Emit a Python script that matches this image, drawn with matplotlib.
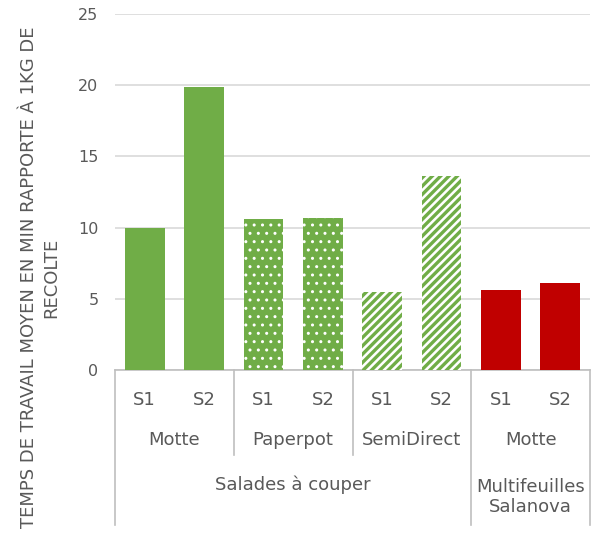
import matplotlib.pyplot as plt
import matplotlib.transforms as mtransforms

plt.rcParams['font.family'] = ['DejaVu Sans']

# data
series = ["S1", "S2", "S1", "S2", "S1", "S2", "S1", "S2"]
values = [10.0, 19.9, 10.6, 10.7, 5.5, 13.6, 5.6, 6.1]
groups = ["Motte", "Paperpot", "SemiDirect", "Motte"]
top_groups = ["Salades à couper", "Multifeuilles\nSalanova"]
yticks = [0, 5, 10, 15, 20, 25]

GREEN = "#70AD47"
RED = "#C00000"
TXT = "#595959"
LINE = "#BFBFBF"

fig = plt.figure(figsize=(5.93, 5.37), dpi=100)
ax = fig.add_axes([0.194, 0.311, 0.801, 0.663])

for i, v in enumerate(values):
    g = i // 2
    if g == 0:
        ax.bar(i, v, width=0.67, color=GREEN, zorder=3)
    elif g == 1:
        plt.rcParams['hatch.linewidth'] = 1.0
        ax.bar(i, v, width=0.67, facecolor=GREEN, edgecolor="white",
               hatch="..", linewidth=0, zorder=3)
    elif g == 2:
        plt.rcParams['hatch.linewidth'] = 2.4
        ax.bar(i, v, width=0.67, facecolor="white", edgecolor=GREEN,
               hatch="////", linewidth=0, zorder=3)
    else:
        ax.bar(i, v, width=0.67, color=RED, zorder=3)

ax.set_xlim(-0.5, 7.5)
ax.set_ylim(0, 25)
ax.set_yticks(yticks)
ax.set_yticklabels([str(t) for t in yticks], fontsize=11.5, color=TXT)
ax.tick_params(axis="y", length=0, pad=12)
ax.set_xticks([])
ax.yaxis.grid(True, color="#D9D9D9", linewidth=1.2, zorder=0)
for s in ["left", "right", "top"]:
    ax.spines[s].set_visible(False)
ax.spines["bottom"].set_color(LINE)
ax.spines["bottom"].set_linewidth(1.2)

ax.set_ylabel("TEMPS DE TRAVAIL MOYEN EN MIN RAPPORTE À 1KG DE\nRECOLTE",
              fontsize=13, color=TXT, linespacing=1.3)
ax.yaxis.set_label_coords(-0.115, 0.26)

trans = mtransforms.blended_transform_factory(ax.transData, ax.transAxes)

# category lines
for xb in [-0.5, 5.5, 7.5]:
    ax.plot([xb, xb], [0, -0.435], transform=trans, color=LINE,
            linewidth=1.2, clip_on=False)
for xb in [1.5, 3.5]:
    ax.plot([xb, xb], [0, -0.239], transform=trans, color=LINE,
            linewidth=1.2, clip_on=False)

for i, s in enumerate(series):
    ax.text(i, -0.084, s, transform=trans, ha="center", va="center",
            fontsize=13, color=TXT)
for j, g in enumerate(groups):
    ax.text(2 * j + 0.5, -0.197, g, transform=trans, ha="center",
            va="center", fontsize=13, color=TXT)
ax.text(2.5, -0.323, top_groups[0], transform=trans, ha="center",
        va="center", fontsize=13, color=TXT)
ax.text(6.5, -0.357, top_groups[1], transform=trans, ha="center",
        va="center", fontsize=13, color=TXT, linespacing=1.15)

fig.savefig("out.png", dpi=100)
